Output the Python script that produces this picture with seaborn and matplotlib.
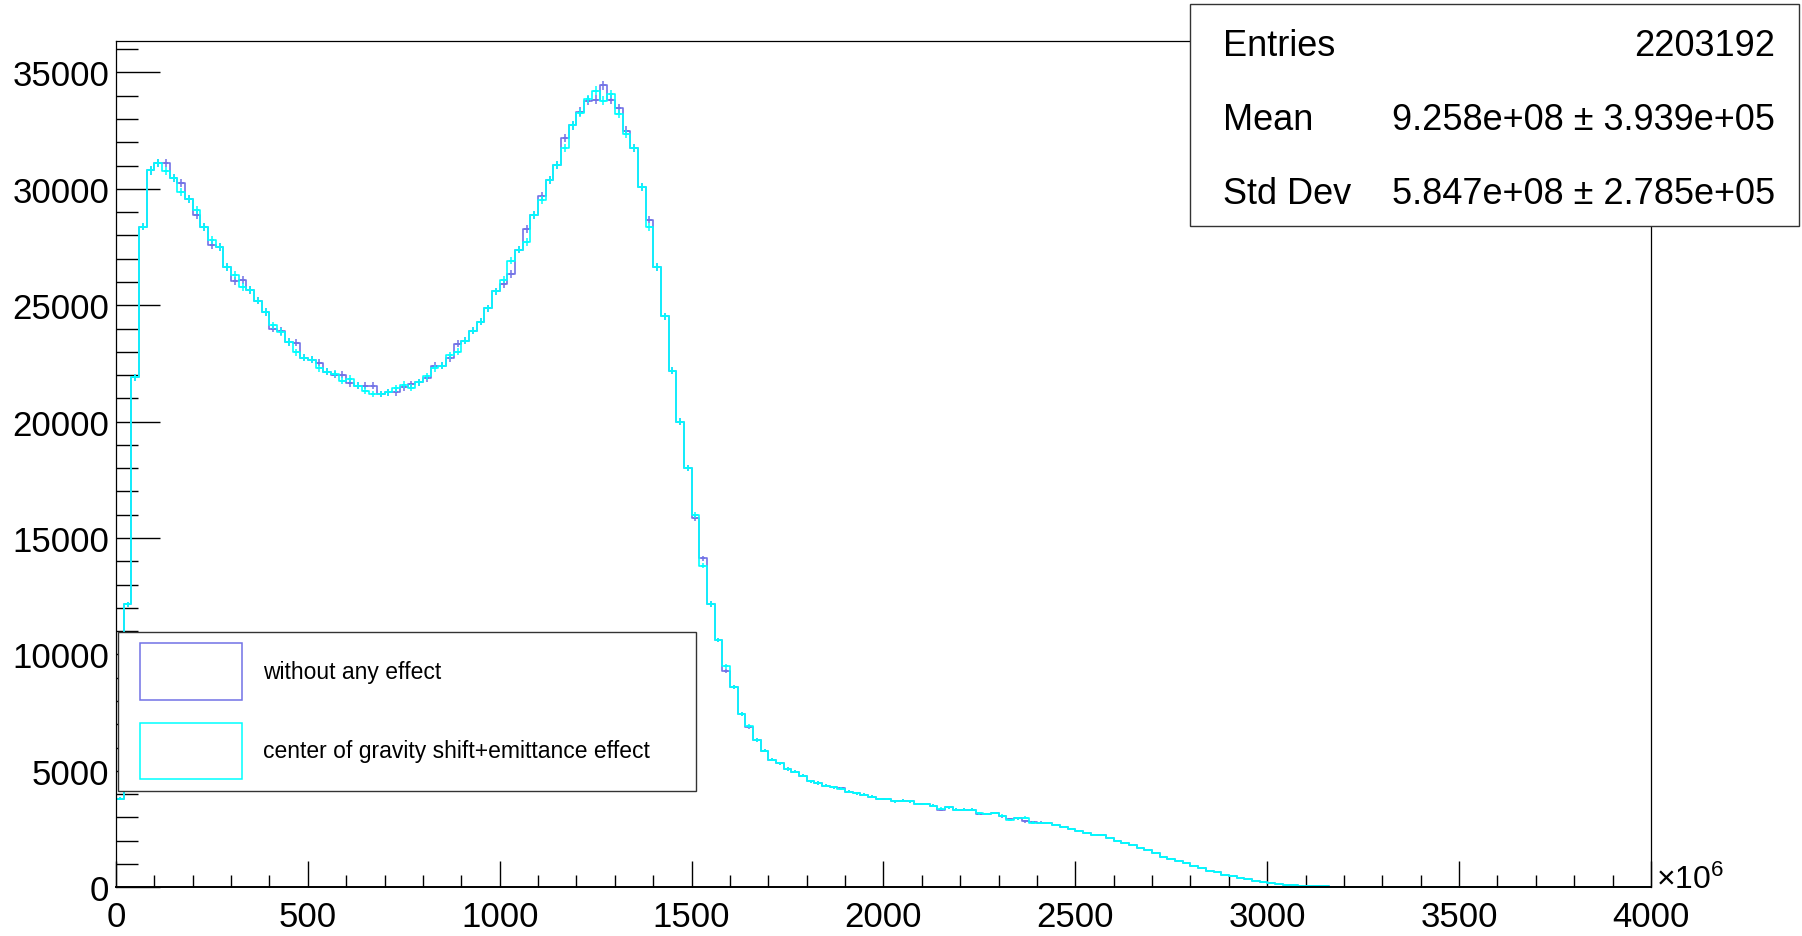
import numpy as np
import pandas as pd
import matplotlib
matplotlib.use("Agg")
import matplotlib.pyplot as plt
import seaborn as sns
from matplotlib.patches import Rectangle
from matplotlib.ticker import MultipleLocator

# ---------------- data (bin contents, bin width 20 x10^6, range 0-4000) ----------------
bin_lo = 0
bin_hi = 4000
n_bins = 200

without_effect = [
    3800, 12150, 21900, 28380, 30790, 31100, 31100, 30460, 30240, 29550,
    28880, 28350, 27590, 27500, 26650, 26030, 26080, 25650, 25190, 24710,
    23990, 23890, 23420, 23390, 22740, 22660, 22530, 22150, 22010, 22010,
    21650, 21550, 21550, 21550, 21190, 21260, 21260, 21480, 21600, 21690,
    21860, 22400, 22400, 22720, 23340, 23480, 23910, 24300, 24870, 25600,
    25915, 26350, 27390, 28280, 28880, 29690, 30360, 31010, 32180, 32720,
    33320, 33790, 33830, 34440, 33830, 33460, 32500, 31740, 30070, 28680,
    26630, 24520, 22190, 20000, 18000, 15850, 14130, 12170, 10620, 9300,
    8590, 7440, 6900, 6330, 5870, 5480, 5325, 5080, 4970, 4790,
    4550, 4480, 4370, 4290, 4260, 4110, 4040, 3980, 3890, 3790,
    3790, 3690, 3720, 3690, 3580, 3580, 3510, 3340, 3430, 3340,
    3340, 3340, 3150, 3150, 3190, 3050, 2930, 2960, 2835, 2800,
    2780, 2760, 2680, 2600, 2500, 2430, 2330, 2250, 2250, 2100,
    1975, 1900, 1820, 1700, 1600, 1475, 1290, 1217, 1117, 1031,
    900, 843, 700, 644, 543, 472, 400, 357, 286, 229,
    200, 143, 115, 100, 70, 57, 45, 45, 30, 25,
    18, 14, 10, 8, 5, 4, 0, 0, 0, 0,
    0, 0, 0, 0, 0, 0, 0, 0, 0, 0,
    0, 0, 0, 0, 0, 0, 0, 0, 0, 0,
    0, 0, 0, 0, 0, 0, 0, 0, 0, 0,
]

cog_emittance = [
    3800, 12150, 21900, 28380, 30790, 31100, 30750, 30460, 29860, 29550,
    29100, 28350, 27800, 27500, 26650, 26290, 25790, 25650, 25190, 24710,
    24140, 23850, 23420, 22980, 22740, 22660, 22300, 22150, 22050, 21760,
    21840, 21550, 21330, 21190, 21190, 21260, 21430, 21580, 21450, 21690,
    21950, 22290, 22400, 22860, 23010, 23480, 23910, 24300, 24870, 25600,
    26100, 26920, 27390, 27710, 28880, 29500, 30360, 31010, 31750, 32720,
    33260, 33860, 34220, 33790, 34080, 33220, 32360, 31740, 30070, 28350,
    26630, 24520, 22190, 20000, 18000, 15990, 13820, 12170, 10620, 9490,
    8590, 7440, 6930, 6330, 5870, 5480, 5325, 5080, 4970, 4790,
    4550, 4480, 4370, 4290, 4240, 4110, 4040, 3980, 3890, 3790,
    3790, 3690, 3720, 3690, 3580, 3580, 3510, 3370, 3430, 3340,
    3340, 3340, 3170, 3150, 3190, 3080, 2900, 2960, 2990, 2780,
    2760, 2760, 2680, 2600, 2500, 2430, 2330, 2250, 2250, 2100,
    1975, 1900, 1820, 1700, 1600, 1475, 1290, 1217, 1117, 1031,
    900, 843, 700, 644, 543, 472, 400, 357, 286, 229,
    200, 143, 115, 100, 70, 57, 45, 45, 30, 25,
    18, 14, 10, 8, 5, 4, 0, 0, 0, 0,
    0, 0, 0, 0, 0, 0, 0, 0, 0, 0,
    0, 0, 0, 0, 0, 0, 0, 0, 0, 0,
    0, 0, 0, 0, 0, 0, 0, 0, 0, 0,
]

series_labels = ["without any effect", "center of gravity shift+emittance effect"]
stats_names = ["Entries", "Mean", "Std Dev"]
stats_values = ["2203192", "9.258e+08 \u00b1 3.939e+05", "5.847e+08 \u00b1 2.785e+05"]

# ---------------- style ----------------
sns.set_style("white")
FONT = ["Liberation Sans", "DejaVu Sans"]
plt.rcParams["font.family"] = FONT
plt.rcParams["text.color"] = "black"
plt.rcParams["mathtext.fontset"] = "custom"
plt.rcParams["mathtext.rm"] = "Liberation Sans"
plt.rcParams["mathtext.it"] = "Liberation Sans:italic"

BLUE = "#7272e6"
CYAN = "#00ffff"

W, H = 1802, 937
fig = plt.figure(figsize=(W / 100, H / 100), dpi=100)
fig.patch.set_facecolor("white")

ax_l, ax_r, ax_t, ax_b = 116, 1651, 41.5, 888.3
ax = fig.add_axes([ax_l / W, (H - ax_b) / H, (ax_r - ax_l) / W, (ax_b - ax_t) / H])
ax.set_facecolor("white")

bin_w = (bin_hi - bin_lo) / n_bins
centers = bin_lo + bin_w * (np.arange(n_bins) + 0.5)

for vals, col in [(without_effect, BLUE), (cog_emittance, CYAN)]:
    v = np.asarray(vals, dtype=float)
    df = pd.DataFrame({"x": centers, "w": v})
    sns.histplot(data=df, x="x", weights="w", bins=n_bins, binrange=(bin_lo, bin_hi),
                 element="step", fill=False, color=col, linewidth=1.2, ax=ax)
    m = v > 0
    ax.errorbar(centers[m], v[m], yerr=np.sqrt(v[m]), xerr=6, fmt="none",
                ecolor=col, elinewidth=1.1, capsize=0)

ax.set_xlim(bin_lo, bin_hi)
ax.set_ylim(0, 36370)
ax.set_xlabel("")
ax.set_ylabel("")

ax.xaxis.set_major_locator(MultipleLocator(500))
ax.xaxis.set_minor_locator(MultipleLocator(100))
ax.yaxis.set_major_locator(MultipleLocator(5000))
ax.yaxis.set_minor_locator(MultipleLocator(1000))

ax.tick_params(axis="x", which="major", direction="in", length=18.7, width=1.0,
               labelsize=25, pad=9, bottom=True, top=False, color="black",
               labelcolor="black")
ax.tick_params(axis="x", which="minor", direction="in", length=9, width=1.0,
               bottom=True, top=False, color="black")
ax.tick_params(axis="y", which="major", direction="in", length=31.7, width=1.0,
               labelsize=25, pad=5, left=True, right=False, color="black",
               labelcolor="black")
ax.tick_params(axis="y", which="minor", direction="in", length=15.8, width=1.0,
               left=True, right=False, color="black")
for s in ax.spines.values():
    s.set_visible(True)
    s.set_color("black")
    s.set_linewidth(0.9)
ax.spines["bottom"].set_linewidth(1.4)

# x10^6 multiplier
fig.text(1656 / W, 1 - 880 / H, r"$\mathregular{\times10^{6}}$", fontsize=23,
         ha="left", va="center", color="black")


def fx(px):
    return px / W


def fy(py):
    return 1 - py / H


# ---------------- legend ----------------
fig.patches.append(Rectangle((fx(118), fy(792)), fx(696) - fx(118), fy(633) - fy(792),
                             transform=fig.transFigure, facecolor="white",
                             edgecolor="#333333", linewidth=1.0, zorder=5))
leg_rows = [(644, 701, BLUE), (724, 780, CYAN)]
for (top, bot, col), lab in zip(leg_rows, series_labels):
    fig.patches.append(Rectangle((fx(140), fy(bot)), fx(241.6) - fx(140), fy(top) - fy(bot),
                                 transform=fig.transFigure, facecolor="none",
                                 edgecolor=col, linewidth=1.1, zorder=6))
    fig.text(fx(262.6), fy((top + bot) / 2), lab, fontsize=16.5, ha="left",
             va="center", zorder=7, color="black")

# ---------------- stats box ----------------
fig.patches.append(Rectangle((fx(1190), fy(227)), fx(1799) - fx(1190), fy(5) - fy(227),
                             transform=fig.transFigure, facecolor="white",
                             edgecolor="#333333", linewidth=1.0, zorder=5))
for name, val, yy in zip(stats_names, stats_values, [47, 120.5, 194]):
    fig.text(fx(1222.6), fy(yy), name, fontsize=26, ha="left", va="center", zorder=7,
             color="black")
    fig.text(fx(1775), fy(yy), val, fontsize=26, ha="right", va="center", zorder=7,
             color="black")

fig.savefig("out.png", dpi=100, facecolor="white")
